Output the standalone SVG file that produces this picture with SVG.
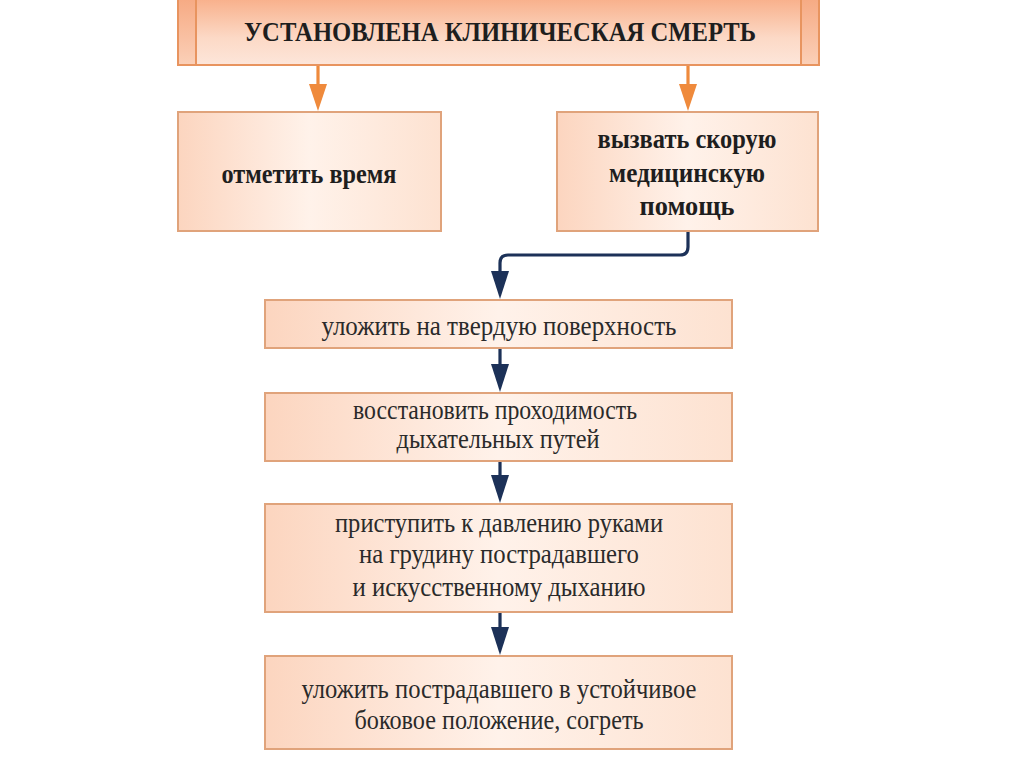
<svg xmlns="http://www.w3.org/2000/svg" width="1024" height="767" viewBox="0 0 1024 767">
<defs>
<linearGradient id="gBox" x1="0" y1="0" x2="1" y2="0">
<stop offset="0" stop-color="#fcd5bf"/>
<stop offset="0.5" stop-color="#fff2ea"/>
<stop offset="1" stop-color="#fde2d1"/>
</linearGradient>
<linearGradient id="gTop" x1="0" y1="0" x2="0" y2="1">
<stop offset="0" stop-color="#f8ae88"/>
<stop offset="0.6" stop-color="#fcd9c6"/>
<stop offset="1" stop-color="#fde6da"/>
</linearGradient>
<linearGradient id="gBand" x1="0" y1="0" x2="0" y2="1">
<stop offset="0" stop-color="#f6a982"/>
<stop offset="1" stop-color="#fbd0b8"/>
</linearGradient>
</defs>
<style>
.box{fill:url(#gBox);stroke:#e0a37b;stroke-width:2}
.t{font-family:"Liberation Serif","Times New Roman",serif;font-size:27px;fill:#2a2a2a;text-anchor:middle}
.b{font-weight:bold;fill:#1e1e1e}
.nav{fill:none;stroke:#1c3158;stroke-width:3.2}
.navh{fill:#1c3158}
.or{fill:none;stroke:#ef8a3c;stroke-width:3.2}
.orh{fill:#ef8a3c}
</style>
<rect width="1024" height="767" fill="#ffffff"/>

<g id="connectors">
<line class="or" x1="318" y1="65" x2="318" y2="86"/>
<polygon class="orh" points="309,84 327,84 318,111"/>
<line class="or" x1="688" y1="65" x2="688" y2="86"/>
<polygon class="orh" points="679,84 697,84 688,111"/>
<path class="nav" d="M688,232 V247 Q688,255 680,255 H508 Q500,255 500,263 V274"/>
<polygon class="navh" points="491,271 509,271 500,299"/>
<line class="nav" x1="500" y1="348" x2="500" y2="366"/>
<polygon class="navh" points="491,364 509,364 500,392"/>
<line class="nav" x1="500" y1="461" x2="500" y2="477"/>
<polygon class="navh" points="491,475 509,475 500,503"/>
<line class="nav" x1="500" y1="612" x2="500" y2="629"/>
<polygon class="navh" points="491,627 509,627 500,655"/>
</g>

<g id="n-top">
<rect x="178" y="-3" width="641" height="68" fill="url(#gTop)" stroke="#e8945f" stroke-width="2"/>
<rect x="178" y="-3" width="18" height="68" fill="url(#gBand)" stroke="#e8945f" stroke-width="2"/>
<rect x="801" y="-3" width="18" height="68" fill="url(#gBand)" stroke="#e8945f" stroke-width="2"/>
<text class="t b" x="500" y="41" font-size="28" textLength="512" lengthAdjust="spacingAndGlyphs">УСТАНОВЛЕНА КЛИНИЧЕСКАЯ СМЕРТЬ</text>
</g>

<g id="n-time">
<rect class="box" x="178" y="112" width="263" height="119"/>
<text class="t b" x="309" y="183" textLength="175" lengthAdjust="spacingAndGlyphs">отметить время</text>
</g>

<g id="n-call">
<rect class="box" x="557" y="112" width="261" height="119"/>
<text class="t b" x="687" y="148" textLength="179" lengthAdjust="spacingAndGlyphs">вызвать скорую</text>
<text class="t b" x="687" y="182" textLength="156" lengthAdjust="spacingAndGlyphs">медицинскую</text>
<text class="t b" x="687" y="215" textLength="95" lengthAdjust="spacingAndGlyphs">помощь</text>
</g>

<g id="n-surface">
<rect class="box" x="265" y="300" width="467" height="48"/>
<text class="t" x="499" y="335" textLength="355" lengthAdjust="spacingAndGlyphs">уложить на твердую поверхность</text>
</g>

<g id="n-airway">
<rect class="box" x="265" y="393" width="467" height="68"/>
<text class="t" x="495" y="419" font-size="22" textLength="284" lengthAdjust="spacingAndGlyphs">восстановить проходимость</text>
<text class="t" x="498" y="448" font-size="22" textLength="203" lengthAdjust="spacingAndGlyphs">дыхательных путей</text>
</g>

<g id="n-cpr">
<rect class="box" x="265" y="504" width="467" height="108"/>
<text class="t" x="499" y="532" textLength="328" lengthAdjust="spacingAndGlyphs">приступить к давлению руками</text>
<text class="t" x="499" y="563" textLength="280" lengthAdjust="spacingAndGlyphs">на грудину пострадавшего</text>
<text class="t" x="499" y="596" textLength="293" lengthAdjust="spacingAndGlyphs">и искусственному дыханию</text>
</g>

<g id="n-side">
<rect class="box" x="265" y="656" width="467" height="93"/>
<text class="t" x="499" y="698" textLength="395" lengthAdjust="spacingAndGlyphs">уложить пострадавшего в устойчивое</text>
<text class="t" x="499" y="729" textLength="289" lengthAdjust="spacingAndGlyphs">боковое положение, согреть</text>
</g>
</svg>
